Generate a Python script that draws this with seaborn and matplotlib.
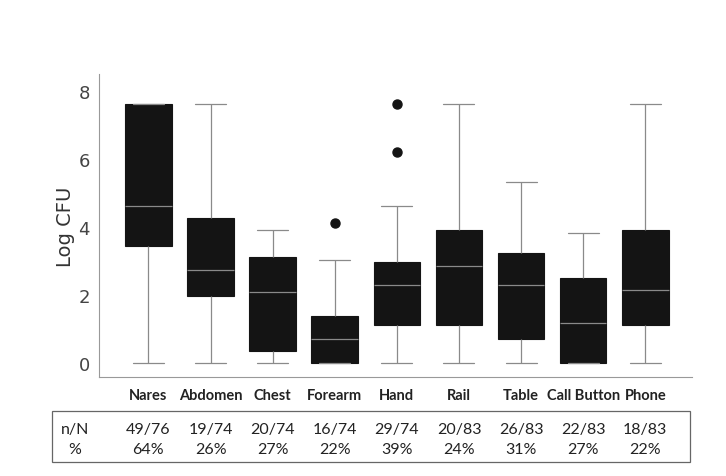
import numpy as np
import pandas as pd
import seaborn as sns
import matplotlib.pyplot as plt
import matplotlib.transforms as mtrans
from matplotlib.patches import Rectangle

# box summaries (Log CFU)
sites = ['Nares', 'Abdomen', 'Chest', 'Forearm', 'Hand', 'Rail', 'Table', 'Call Button', 'Phone']
mins = [0, 0, 0, 0, 0, 0, 0, 0, 0]
q1s = [3.42, 1.95, 0.35, 0.0, 1.11, 1.11, 0.71, 0.0, 1.11]
medians = [4.62, 2.72, 2.08, 0.70, 2.30, 2.85, 2.30, 1.16, 2.13]
q3s = [7.62, 4.25, 3.10, 1.37, 2.96, 3.90, 3.22, 2.49, 3.90]
maxs = [7.62, 7.62, 3.91, 3.01, 4.61, 7.61, 5.31, 3.80, 7.61]
outliers = [[], [], [], [4.11], [6.21, 7.60], [], [], [], []]

n_over_N = ['49/76', '19/74', '20/74', '16/74', '29/74', '20/83', '26/83', '22/83', '18/83']
pct = ['64%', '26%', '27%', '22%', '39%', '24%', '31%', '27%', '22%']

# rebuild 13 points per site so the quartiles land on the read values
rows = []
for i, s in enumerate(sites):
    tail = list(outliers[i])
    tail = [maxs[i]] * (3 - len(tail)) + tail
    vals = [mins[i]] + [q1s[i]] * 3 + [medians[i]] * 3 + [q3s[i]] * 3 + tail
    for v in vals:
        rows.append({'site': s, 'cfu': v})
df = pd.DataFrame(rows)

sns.set_style('white')
fig = plt.figure(figsize=(7.26, 4.77), dpi=100)
ax = fig.add_axes([0.136, 0.2075, 0.817, 0.636])

sns.boxplot(data=df, x='site', y='cfu', order=sites, ax=ax, width=0.75,
            color='#141414', linecolor='#141414', linewidth=0.8,
            boxprops=dict(facecolor='#141414', edgecolor='#141414'),
            medianprops=dict(color='#8a8a8a', linewidth=0.9),
            whiskerprops=dict(color='#8a8a8a', linewidth=0.9),
            capprops=dict(color='#8a8a8a', linewidth=0.9),
            flierprops=dict(marker='o', markerfacecolor='#141414',
                            markeredgecolor='#141414', markersize=6.5),
            capwidths=0.5)

ax.set_xlim(-0.8, 8.75)
ax.set_ylim(-0.42, 8.5)
ax.set_yticks([0, 2, 4, 6, 8])
ax.set_ylabel('Log CFU', fontsize=14, color='#333333', labelpad=2)
ax.set_xlabel('')
for side in ['top', 'right']:
    ax.spines[side].set_visible(False)
for side in ['left', 'bottom']:
    ax.spines[side].set_color('#999999')
    ax.spines[side].set_linewidth(0.8)
ax.tick_params(axis='y', labelsize=13, labelcolor='#444444', length=3, color='#999999', width=0.8)
ax.tick_params(axis='x', length=0, pad=8)
ax.set_xticks(range(len(sites)))
ax.set_xticklabels(sites, fontsize=10.5, fontweight='bold', family='Lato', color='#222222')

# n/N table under the axis
trans = mtrans.blended_transform_factory(ax.transData, fig.transFigure)
fig.add_artist(Rectangle((0.072, 0.029), 0.879, 0.107, transform=fig.transFigure,
                         fill=False, edgecolor='#666666', linewidth=0.9))
fig.text(0.103, 0.098, 'n/N', ha='center', va='center', fontsize=11.5, family='Lato', color='#222222')
fig.text(0.103, 0.057, '%', ha='center', va='center', fontsize=11.5, family='Lato', color='#222222')
for i in range(len(sites)):
    ax.text(i, 0.098, n_over_N[i], transform=trans, ha='center', va='center',
            fontsize=11.5, family='Lato', color='#222222')
    ax.text(i, 0.057, pct[i], transform=trans, ha='center', va='center',
            fontsize=11.5, family='Lato', color='#222222')

fig.savefig('out.png', dpi=100)
